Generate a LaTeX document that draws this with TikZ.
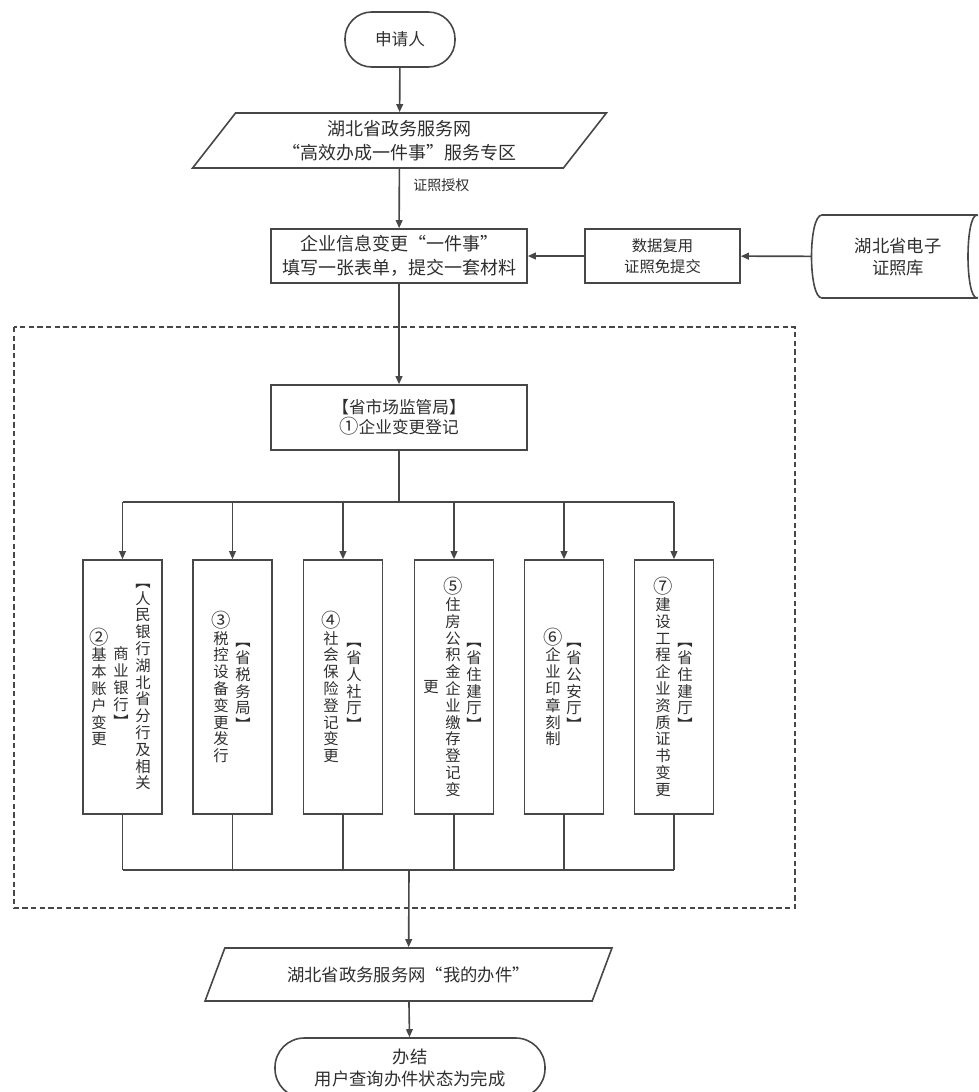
\documentclass[tikz,border=0pt]{standalone}
\usepackage{fontspec}
\usetikzlibrary{arrows.meta,shapes.geometric}
\newfontfamily\cjk{Noto Sans CJK SC}
\newcommand\cnum[1]{{\fontsize{14.5}{12.6}\selectfont #1}}
\definecolor{linec}{HTML}{474747}
\definecolor{txtc}{HTML}{2E2E2E}
\begin{document}
\begin{tikzpicture}[x=0.75pt,y=-0.75pt,
  every node/.style={text=txtc},
  ln/.style={draw=linec,line width=1.2pt},
  arr/.style={ln,-{Triangle[length=6pt,width=5pt]}},
  boxst/.style={ln,rectangle,align=center,inner sep=0pt},
  termst/.style={ln,rectangle,align=center,inner sep=0pt},
  parast/.style={ln,trapezium,trapezium stretches=true,align=center,inner sep=0pt},
  colbox/.style={ln,rectangle,minimum width=59.25pt,minimum height=190.5pt,inner sep=0pt},
  vtext/.style={align=center,inner sep=0pt,font=\cjk\fontsize{11.5}{12.6}\selectfont},
  lbl/.style={inner sep=0pt,font=\cjk\fontsize{10.5}{13}\selectfont},
]
\useasboundingbox (0,0) rectangle (978,1092);
\clip (0,0) rectangle (978,1092);

% top terminal
\node[termst,rounded corners=20pt,minimum width=82.5pt,minimum height=41.25pt,
  font=\cjk\fontsize{12.5}{15}\selectfont] (start) at (400,39.5) {申请人};

% parallelogram 1
\node[parast,trapezium left angle=53,trapezium right angle=127,
  minimum width=311.25pt,minimum height=41.25pt,
  font=\cjk\fontsize{13.5}{18}\selectfont] (web) at (399.5,140.5)
  {湖北省政务服务网\\“高效办成一件事”服务专区};

% form box
\node[boxst,minimum width=192pt,minimum height=40.5pt,
  font=\cjk\fontsize{13.5}{18}\selectfont] (form) at (399,256)
  {企业信息变更“一件事”\\填写一张表单，提交一套材料};

% data reuse box
\node[boxst,minimum width=116.25pt,minimum height=40.5pt,
  font=\cjk\fontsize{11.5}{15.75}\selectfont] (reuse) at (662.5,256)
  {数据复用\\证照免提交};

% database
\node[inner sep=0pt,minimum width=132pt,minimum height=62.25pt,align=center,
  font=\cjk\fontsize{13}{16.5}\selectfont] (db) at (900,256.5)
  {\hspace*{-3pt}湖北省电子\\\hspace*{-3pt}证照库};
\draw[ln] (822,215) -- (977,215)
  .. controls (989,215) and (989,298) .. (977,298) -- (822,298)
  .. controls (808,298) and (808,215) .. (822,215) -- cycle;
\draw[ln] (977,215) .. controls (965,215) and (965,298) .. (977,298);

% connectors top
\draw[arr] (start) -- (web);
\draw[arr] (web) -- node[lbl,pos=0.28,anchor=west,xshift=10pt] (auth) {证照授权} (form);
\draw[arr] (db) -- (reuse);
\draw[arr] (reuse) -- (form);

% dashed frame
\draw[draw=linec,line width=1.2pt,dash pattern=on 4pt off 2.5pt] (14,327) rectangle (795,908);

% market supervision box
\node[boxst,minimum width=192pt,minimum height=48.75pt,
  font=\cjk\fontsize{12.5}{15}\selectfont] (mkt) at (399,417.5)
  {【省市场监管局】\\\cnum{①}企业变更登记};
\draw[arr] (form) -- (mkt);

% columns
\node[colbox] (c1) at (122.5,687) {};
\node[colbox] (c2) at (232.5,687) {};
\node[colbox] (c3) at (343,687) {};
\node[colbox] (c4) at (454,687) {};
\node[colbox] (c5) at (564,687) {};
\node[colbox] (c6) at (674,687) {};

% column texts (vertical, read right to left)
\node[vtext] (t1a) at (143,687) {︻\\人\\民\\银\\行\\湖\\北\\省\\分\\行\\及\\相\\关};
\node[vtext] (t1b) at (121,687) {商\\业\\银\\行\\︼};
\node[vtext] (t1c) at (99,687) {\cnum{②}\\基\\本\\账\\户\\变\\更};

\node[vtext] (t2a) at (243,687) {︻\\省\\税\\务\\局\\︼};
\node[vtext] (t2b) at (221,687) {\cnum{③}\\税\\控\\设\\备\\变\\更\\发\\行};

\node[vtext] (t3a) at (354,687) {︻\\省\\人\\社\\厅\\︼};
\node[vtext] (t3b) at (331,687) {\cnum{④}\\社\\会\\保\\险\\登\\记\\变\\更};

\node[vtext] (t4a) at (474,687) {︻\\省\\住\\建\\厅\\︼};
\node[vtext] (t4b) at (453,687) {\cnum{⑤}\\住\\房\\公\\积\\金\\企\\业\\缴\\存\\登\\记\\变};
\node[vtext] (t4c) at (431,687) {更};

\node[vtext] (t5a) at (574,687) {︻\\省\\公\\安\\厅\\︼};
\node[vtext] (t5b) at (553,687) {\cnum{⑥}\\企\\业\\印\\章\\刻\\制};

\node[vtext] (t6a) at (685,687) {︻\\省\\住\\建\\厅\\︼};
\node[vtext] (t6b) at (663,687) {\cnum{⑦}\\建\\设\\工\\程\\企\\业\\资\\质\\证\\书\\变\\更};

% top bus
\coordinate (busT) at (399,502);
\draw[ln] (mkt) -- (busT);
\draw[ln] (c1.north |- busT) -- (c6.north |- busT);
\foreach \c in {c1,c2,c3,c4,c5,c6}
  \draw[arr] (\c.north |- busT) -- (\c.north);

% bottom bus
\coordinate (busB) at (409,870);
\foreach \c in {c1,c2,c3,c4,c5,c6}
  \draw[ln] (\c.south) -- (\c.south |- busB);
\draw[ln] (c1.south |- busB) -- (c6.south |- busB);

% parallelogram 2
\node[parast,trapezium left angle=51,trapezium right angle=129,
  minimum width=305.25pt,minimum height=39.75pt,
  font=\cjk\fontsize{13}{17}\selectfont] (mine) at (408.5,974.5)
  {湖北省政务服务网“我的办件”};
\draw[arr] (busB) -- (mine);

% end terminal
\node[termst,rounded corners=22pt,minimum width=202.5pt,minimum height=45pt,
  font=\cjk\fontsize{13}{16}\selectfont] (finish) at (410,1068)
  {办结\\用户查询办件状态为完成};
\draw[arr] (mine) -- (finish);
\end{tikzpicture}
\end{document}
